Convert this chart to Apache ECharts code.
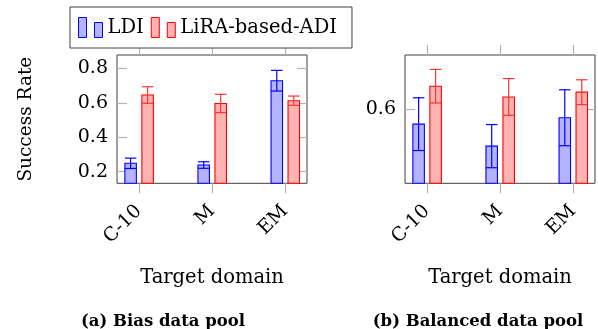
<!DOCTYPE html>
<html>
<head>
<meta charset="utf-8">
<script src="https://cdn.jsdelivr.net/npm/echarts@6/dist/echarts.min.js"></script>
<style>html,body{margin:0;padding:0;background:#fff;}#c{width:598px;height:329px;}</style>
</head>
<body>
<div id="c"></div>
<script>
const categories = ['C-10', 'M', 'EM'];
const catPositions = [0, 1, 2];
// (a) Bias data pool
const biasLDI = [0.249, 0.239, 0.728];
const biasLDIErr = [0.030, 0.019, 0.060];
const biasADI = [0.645, 0.596, 0.612];
const biasADIErr = [0.048, 0.053, 0.027];
// (b) Balanced data pool
const balLDI = [0.562, 0.507, 0.578];
const balLDIErr = [0.066, 0.054, 0.070];
const balADI = [0.657, 0.630, 0.642];
const balADIErr = [0.042, 0.046, 0.031];
const biasTicks = [0.2, 0.4, 0.6, 0.8];
const balTicks = [0.6];
const biasRange = [0.133, 0.877];
const balRange = [0.414, 0.735];
const xRange = [-0.3, 2.3];

const FONT = 'DejaVu Serif';
const TICK = '#b3b3b3';
const BLUE = '#0000ff', BLUEF = '#b3b3ff', RED = '#ff0000', REDF = '#ffb3b3', REDE = '#ff3333';

function mk(vals, errs) { return vals.map((v, i) => [catPositions[i], v, errs[i]]); }

function barSeries(name, data, xi, yi, yMin, off, stroke, fill, errColor) {
  return {
    type: 'custom', name: name, xAxisIndex: xi, yAxisIndex: yi,
    itemStyle: { color: fill, borderColor: stroke },
    data: data,
    encode: { x: 0, y: 1 },
    renderItem: function (params, api) {
      const x = api.value(0), v = api.value(1), e = api.value(2);
      const top = api.coord([x, v]);
      const base = api.coord([x, yMin]);
      const hi = api.coord([x, v + e]);
      const lo = api.coord([x, v - e]);
      const w = 11.5;
      const cx = top[0] + off;
      return {
        type: 'group',
        children: [
          { type: 'rect', shape: { x: cx - w / 2, y: top[1], width: w, height: base[1] - top[1] },
            style: { fill: fill, stroke: stroke, lineWidth: 1.1 } },
          { type: 'line', shape: { x1: cx, y1: hi[1], x2: cx, y2: lo[1] }, style: { stroke: errColor, lineWidth: 1.2 } },
          { type: 'line', shape: { x1: cx - w / 2, y1: hi[1], x2: cx + w / 2, y2: hi[1] }, style: { stroke: errColor, lineWidth: 1.2 } },
          { type: 'line', shape: { x1: cx - w / 2, y1: lo[1], x2: cx + w / 2, y2: lo[1] }, style: { stroke: errColor, lineWidth: 1.2 } }
        ]
      };
    }
  };
}

function xBottom(gi) {
  return {
    type: 'value', gridIndex: gi, position: 'bottom', min: xRange[0], max: xRange[1],
    axisLine: { show: false, onZero: false }, splitLine: { show: false },
    axisTick: { show: true, inside: false, length: 10, customValues: catPositions, lineStyle: { color: TICK, width: 1.2 } },
    axisLabel: { customValues: catPositions, rotate: 45, margin: 25, fontFamily: FONT, fontSize: 19, color: '#000',
      formatter: v => categories[Math.round(v)] },
    name: 'Target domain', nameLocation: 'middle', nameGap: 85,
    nameTextStyle: { fontFamily: FONT, fontSize: 19.5, color: '#000' }
  };
}
function xTop(gi) {
  return {
    type: 'value', gridIndex: gi, position: 'top', min: xRange[0], max: xRange[1],
    axisLine: { show: false, onZero: false }, splitLine: { show: false }, axisLabel: { show: false },
    axisTick: { show: true, inside: false, length: 10, customValues: catPositions, lineStyle: { color: TICK, width: 1.2 } }
  };
}
function yLeft(gi, range, ticks, withName) {
  const o = {
    type: 'value', gridIndex: gi, position: 'left', min: range[0], max: range[1],
    axisLine: { show: false, onZero: false }, splitLine: { show: false },
    axisTick: { show: true, inside: true, length: 10, customValues: ticks, lineStyle: { color: TICK, width: 1.2 } },
    axisLabel: { customValues: ticks, margin: 9, fontFamily: FONT, fontSize: 19, color: '#000', formatter: v => v.toFixed(1) }
  };
  if (withName) {
    o.name = 'Success Rate'; o.nameLocation = 'middle'; o.nameGap = 81;
    o.nameTextStyle = { fontFamily: FONT, fontSize: 18.5, color: '#000' };
  }
  return o;
}
function yRight(gi, range, ticks) {
  return {
    type: 'value', gridIndex: gi, position: 'right', min: range[0], max: range[1],
    axisLine: { show: false, onZero: false }, splitLine: { show: false }, axisLabel: { show: false },
    axisTick: { show: true, inside: true, length: 10, customValues: ticks, lineStyle: { color: TICK, width: 1.2 } }
  };
}

const chart = echarts.init(document.getElementById('c'), null, { renderer: 'canvas' });
chart.setOption({
  animation: false,
  backgroundColor: '#fff',
  grid: [
    { left: 117, top: 55, width: 190, height: 128.3, show: true, borderColor: '#404040', borderWidth: 1, backgroundColor: 'transparent' },
    { left: 405, top: 55, width: 190, height: 128.3, show: true, borderColor: '#404040', borderWidth: 1, backgroundColor: 'transparent' }
  ],
  xAxis: [xBottom(0), xTop(0), xBottom(1), xTop(1)],
  yAxis: [yLeft(0, biasRange, biasTicks, true), yRight(0, biasRange, biasTicks),
          yLeft(1, balRange, balTicks, false), yRight(1, balRange, balTicks)],
  legend: {
    left: 70, top: 7, orient: 'horizontal',
    backgroundColor: '#fff', borderColor: '#404040', borderWidth: 1,
    padding: [10, 15, 10, 8], itemGap: 7, itemWidth: 24, itemHeight: 20, symbolKeepAspect: false,
    icon: 'path://M0,0H8V20H0Z M16,5H24V20H16Z',
    textStyle: { fontFamily: FONT, fontSize: 19.5, color: '#000' },
    data: [
      { name: 'LDI', itemStyle: { color: BLUEF, borderColor: BLUE, borderWidth: 1 } },
      { name: 'LiRA-based-ADI', itemStyle: { color: REDF, borderColor: RED, borderWidth: 1 } }
    ]
  },
  graphic: [
    { type: 'text', x: 163, y: 321.5, style: { text: '(a) Bias data pool', fontFamily: FONT, fontSize: 16.5, fontWeight: 'bold', fill: '#000', align: 'center', verticalAlign: 'middle' } },
    { type: 'text', x: 478, y: 321.5, style: { text: '(b) Balanced data pool', fontFamily: FONT, fontSize: 16.5, fontWeight: 'bold', fill: '#000', align: 'center', verticalAlign: 'middle' } }
  ],
  series: [
    barSeries('LDI', mk(biasLDI, biasLDIErr), 0, 0, biasRange[0], -8.3, BLUE, BLUEF, BLUE),
    barSeries('LiRA-based-ADI', mk(biasADI, biasADIErr), 0, 0, biasRange[0], 8.7, RED, REDF, REDE),
    barSeries('LDI', mk(balLDI, balLDIErr), 2, 2, balRange[0], -8.3, BLUE, BLUEF, BLUE),
    barSeries('LiRA-based-ADI', mk(balADI, balADIErr), 2, 2, balRange[0], 8.7, RED, REDF, REDE)
  ]
});
</script>
</body>
</html>
